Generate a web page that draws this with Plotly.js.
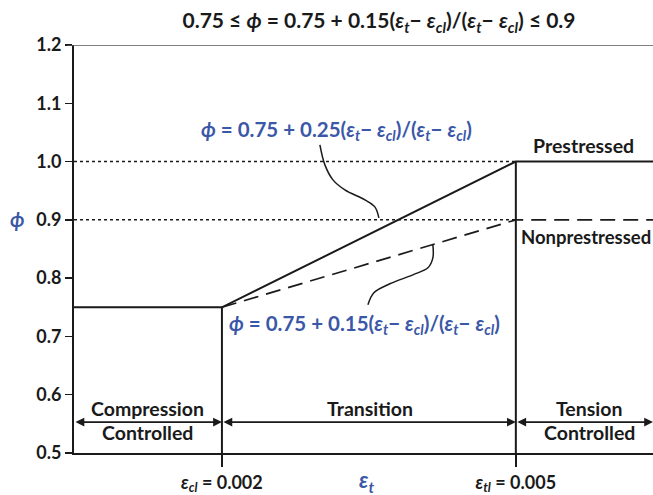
<!DOCTYPE html>
<html>
<head>
<meta charset="utf-8">
<script src="https://cdn.plot.ly/plotly-3.0.1.min.js"></script>
<style>html,body{margin:0;padding:0;overflow:hidden;background:#fff;}</style>
</head>
<body>
<div id="chart" style="width:653px;height:495px;"></div>
<script>
// ---- data ----
const strainCl = 0.002;
const strainTl = 0.005;
const xMin = 0.00049;
const xMax = 0.0064;
const prestressedX = [xMin, 0.002, 0.005, xMax];
const prestressedPhi = [0.75, 0.75, 1.0, 1.0];
const nonprestressedX = [0.002, 0.005, xMax];
const nonprestressedPhi = [0.75, 0.9, 0.9];
const dottedLevels = [1.0, 0.9];
const yTicks = [0.5, 0.6, 0.7, 0.8, 0.9, 1.0, 1.1, 1.2];
const yTickText = ['0.5', '0.6', '0.7', '0.8', '0.9', '1.0', '1.1', '1.2'];
const xTicks = [strainCl, strainTl];
const xTickText = ['<i>ε</i><sub><i>cl</i></sub> = 0.002', '<i>ε</i><sub><i>tl</i></sub> = 0.005'];
const zoneBounds = [xMin, strainCl, strainTl, xMax];
const zoneCenters = [0.001245, 0.00351, 0.005755];
const zoneTop = ['Compression', 'Transition', 'Tension'];
const zoneBottom = ['Controlled', '', 'Controlled'];
const zoneArrowPhi = 0.553;
const zoneTopPhi = 0.577;
const zoneBottomPhi = 0.5345;
// leader curves (data coords)
const leader1X = [0.00300, 0.003051, 0.003133, 0.003255, 0.003459, 0.003561, 0.003602];
const leader1Y = [1.0286, 0.9943, 0.9686, 0.9514, 0.9343, 0.9223, 0.9034];
const leader2X = [0.004153, 0.004153, 0.004102, 0.003949, 0.003714, 0.003551, 0.003490];
const leader2Y = [0.8571, 0.8349, 0.8177, 0.8057, 0.7903, 0.7749, 0.7543];

const FONT = 'Lato, "Open Sans", sans-serif';
const BLUE = '#3b57a7';
const BLACK = '#1a1a1a';
const formulaPart = '(<i>ε<sub>t</sub></i>− <i>ε<sub>cl</sub></i>)/(<i>ε<sub>t</sub></i>− <i>ε<sub>cl</sub></i>)';

const traces = [];
dottedLevels.forEach(v => {
  traces.push({x: [xMin, strainTl], y: [v, v], mode: 'lines', line: {color: BLACK, width: 1.5, dash: 'dot'}, hoverinfo: 'skip'});
});
traces.push({x: prestressedX, y: prestressedPhi, mode: 'lines', line: {color: BLACK, width: 2}, hoverinfo: 'skip'});
traces.push({x: nonprestressedX, y: nonprestressedPhi, mode: 'lines', line: {color: BLACK, width: 1.7, dash: '15px,8px'}, hoverinfo: 'skip'});
traces.push({x: [strainCl, strainCl], y: [0.75, 0.5], mode: 'lines', line: {color: BLACK, width: 2}, hoverinfo: 'skip'});
traces.push({x: [strainTl, strainTl], y: [1.0, 0.5], mode: 'lines', line: {color: BLACK, width: 2}, hoverinfo: 'skip'});
traces.push({x: leader1X, y: leader1Y, mode: 'lines', line: {color: BLACK, width: 1.5, shape: 'spline'}, hoverinfo: 'skip'});
traces.push({x: leader2X, y: leader2Y, mode: 'lines', line: {color: BLACK, width: 1.5, shape: 'spline'}, hoverinfo: 'skip'});

const labelFont = {family: FONT, size: 19.5, color: BLACK, weight: 'bold'};
const blueFont = {family: FONT, size: 20.5, color: BLUE, weight: 'bold'};
const annotations = [];
for (let i = 0; i < 3; i++) {
  const a = zoneBounds[i], b = zoneBounds[i + 1];
  annotations.push({x: b, y: zoneArrowPhi, ax: a, ay: zoneArrowPhi, xref: 'x', yref: 'y', axref: 'x', ayref: 'y',
    text: '', showarrow: true, arrowhead: 2, arrowside: 'end+start', arrowsize: 1.1, arrowwidth: 1.6, arrowcolor: BLACK, standoff: 0, startstandoff: 0});
  annotations.push({x: zoneCenters[i], y: zoneTopPhi, xref: 'x', yref: 'y', text: zoneTop[i], showarrow: false, font: labelFont});
  if (zoneBottom[i]) annotations.push({x: zoneCenters[i], y: zoneBottomPhi, xref: 'x', yref: 'y', text: zoneBottom[i], showarrow: false, font: labelFont});
}
annotations.push({x: 0.005694, y: 1.0268, xref: 'x', yref: 'y', text: 'Prestressed', showarrow: false, font: labelFont});
annotations.push({x: 0.005031, y: 0.8708, xref: 'x', yref: 'y', xanchor: 'left', text: 'Nonprestressed', showarrow: false,
  font: {family: FONT, size: 18.5, color: BLACK, weight: 'bold'}});
annotations.push({x: 0.003174, y: 1.0526, xref: 'x', yref: 'y', text: '<i>ϕ</i> = 0.75 + 0.25' + formulaPart, showarrow: false, font: blueFont});
annotations.push({x: 0.003459, y: 0.72, xref: 'x', yref: 'y', text: '<i>ϕ</i> = 0.75 + 0.15' + formulaPart, showarrow: false, font: blueFont});
// y-axis title (phi) and x-axis title (epsilon_t)
annotations.push({xref: 'paper', yref: 'paper', x: (17 - 74) / 579, y: (453 - 219) / 408, xanchor: 'center', yanchor: 'middle',
  text: '<i>ϕ</i>', showarrow: false, font: {family: FONT, size: 20, color: BLUE, weight: 'bold'}});
annotations.push({xref: 'paper', yref: 'paper', x: (366 - 74) / 579, y: (453 - 481) / 408, xanchor: 'center', yanchor: 'middle',
  text: '<i>ε<sub>t</sub></i>', showarrow: false, font: {family: FONT, size: 22, color: BLUE, weight: 'bold'}});

const layout = {
  width: 653, height: 495,
  margin: {l: 74, r: 0, t: 45, b: 42},
  paper_bgcolor: '#fff', plot_bgcolor: '#fff',
  showlegend: false,
  title: {text: '0.75 ≤ <i>ϕ</i> = 0.75 + 0.15' + formulaPart + ' ≤ 0.9',
    x: 379 / 653, xref: 'container', xanchor: 'center', y: 1 - 21 / 495, yref: 'container', yanchor: 'middle',
    font: {family: FONT, size: 21, color: BLACK, weight: 'bold'}},
  xaxis: {range: [xMin, xMax], showgrid: false, zeroline: false, showline: true, linecolor: BLACK, linewidth: 2,
    tickmode: 'array', tickvals: xTicks, ticktext: xTickText, ticks: 'outside', ticklen: 12, tickwidth: 2, tickcolor: BLACK,
    tickfont: {family: FONT, size: 18, color: BLACK, weight: 'bold'}},
  yaxis: {range: [0.5, 1.2], showgrid: false, zeroline: false, showline: true, linecolor: BLACK, linewidth: 2,
    tickmode: 'array', tickvals: yTicks, ticktext: yTickText, ticks: 'outside', ticklen: 7, tickwidth: 1.5, tickcolor: BLACK,
    tickfont: {family: FONT, size: 18, color: BLACK, weight: 'bold'}},
  shapes: [{type: 'line', xref: 'paper', yref: 'y', x0: -0.012, x1: 1, y0: 1.2, y1: 1.2, line: {color: '#555', width: 1.5}}],
  annotations: annotations
};

Plotly.newPlot('chart', traces, layout, {displayModeBar: false, staticPlot: true});
</script>
</body>
</html>
